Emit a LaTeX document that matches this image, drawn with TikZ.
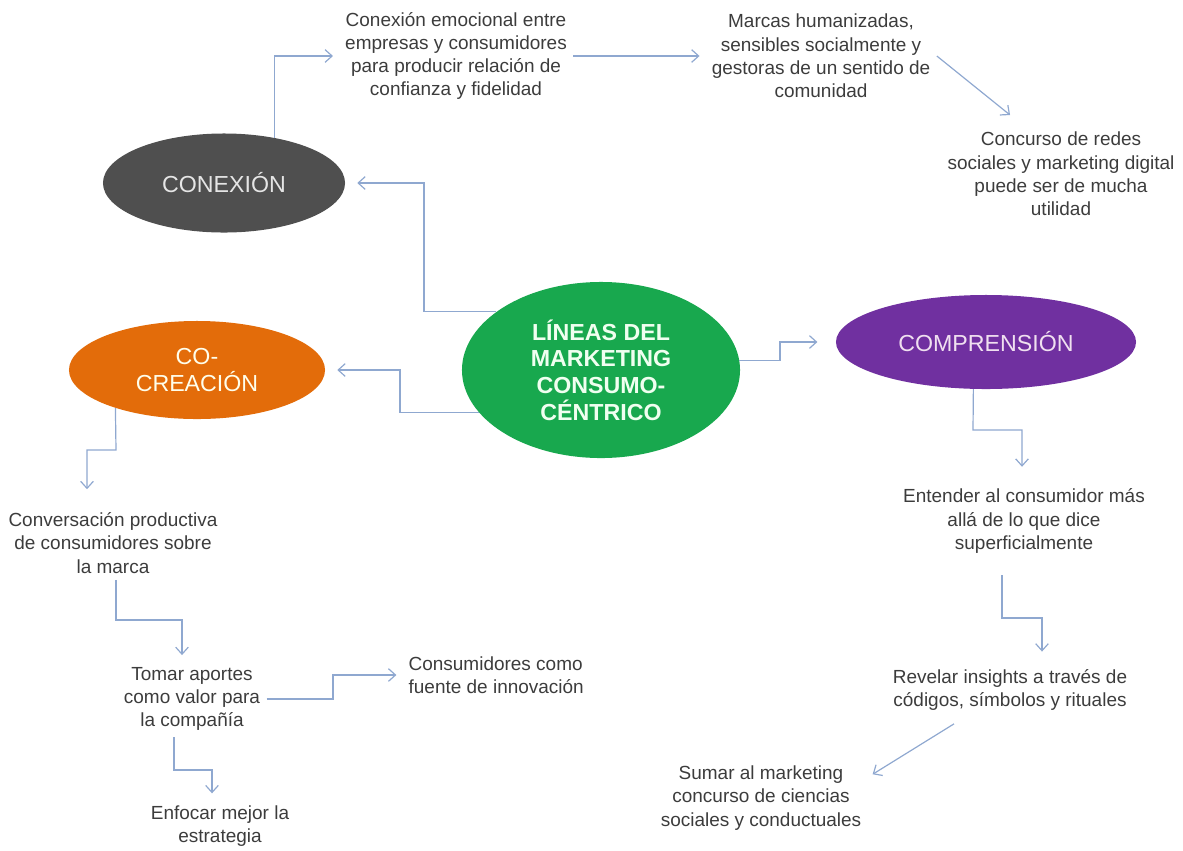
\documentclass[tikz,border=0pt]{standalone}
\usepackage{fontspec}
\setmainfont{Liberation Sans}
\usetikzlibrary{arrows.meta,shapes.geometric}

\begin{document}
\begin{tikzpicture}[x=0.025cm,y=-0.025cm,>={Straight Barb[length=5pt,width=9pt]},
  lnk/.style={->,draw=cLink,line width=0.85pt,shorten >=4pt},
  blob/.style={ellipse,inner sep=0pt,align=center,font=\fontsize{16.5}{19.5}\selectfont},
  txt/.style={align=center,text=cText,inner sep=4.5pt,font=\fontsize{13.5}{16.5}\selectfont}]

% colors
\definecolor{cGrey}{RGB}{79,79,79}
\definecolor{cOrange}{RGB}{227,108,10}
\definecolor{cGreen}{RGB}{24,168,78}
\definecolor{cPurple}{RGB}{112,48,160}
\definecolor{cLink}{RGB}{143,168,208}
\definecolor{cText}{RGB}{60,60,60}

% frame
\useasboundingbox (0,0) rectangle (1183,850);

% four ellipses
\node[blob,fill=cGrey,text=black!10,minimum width=6.05cm,minimum height=2.475cm] (conexion) at (224,183) {CONEXIÓN};
\node[blob,fill=cOrange,text=yellow!8,minimum width=6.4cm,minimum height=2.45cm] (cocrea) at (197,370) {CO-\\CREACIÓN};
\node[blob,fill=cGreen,text=green!6,font=\bfseries\fontsize{16.5}{19}\selectfont,minimum width=6.95cm,minimum height=4.4cm] (lineas) at (601,370) {LÍNEAS DEL\\MARKETING\\CONSUMO-\\CÉNTRICO};
\node[blob,fill=cPurple,text=violet!12,minimum width=7.5cm,minimum height=2.35cm] (compren) at (986,342) {COMPRENSIÓN};

% texts
\node[txt] (emoc) at (456,56) {Conexión emocional entre\\empresas y consumidores\\para producir relación de\\confianza y fidelidad};
\node[txt] (marcas) at (821,56) {Marcas humanizadas,\\sensibles socialmente y\\gestoras de un sentido de\\comunidad};
\node[txt] (redes) at (1061,174) {Concurso de redes\\sociales y marketing digital\\puede ser de mucha\\utilidad};
\node[txt] (entender) at (1024,521) {Entender al consumidor más\\allá de lo que dice\\superficialmente};
\node[txt] (revelar) at (1010,690) {Revelar insights a través de\\códigos, símbolos y rituales};
\node[txt] (sumar) at (761,798) {Sumar al marketing\\concurso de ciencias\\sociales y conductuales};
\node[txt] (convers) at (113,543) {Conversación productiva\\de consumidores sobre\\la marca};
\node[txt] (tomar) at (192,699) {Tomar aportes\\como valor para\\la compañía};
\node[txt,align=left,anchor=west] (innov) at (402,675) {Consumidores como\\fuente de innovación};
\node[txt] (enfocar) at (220,826) {Enfocar mejor la\\estrategia};

% bends
\coordinate (k1) at (424,183);
\coordinate (k2) at (400,370);
\coordinate (k3) at (780,342);
\coordinate (k4) at (973,430);
\coordinate (k5) at (1022,430);
\coordinate (k6) at (1002,618);
\coordinate (k7) at (1042,618);
\coordinate (k8) at (116,450);
\coordinate (k9) at (87,450);
\coordinate (k10) at (116,620);
\coordinate (k11) at (182,620);
\coordinate (k12) at (333,675);
\coordinate (k13) at (174,770);
\coordinate (k14) at (212,770);

% top branch
\draw[lnk] (conexion.42) |- (emoc.west);
\draw[lnk] (emoc.east) -- (marcas.west);
\draw[lnk,shorten >=12pt] (marcas.east) -- (redes.128);

% from the centre
\draw[lnk,shorten >=8.5pt] (lineas.151) -| (k1) -- (conexion.east);
\draw[lnk,shorten >=8.5pt] (lineas.199) -| (k2) -- (cocrea.east);
\draw[lnk,shorten >=13pt] (lineas.4) -| (k3) -- (compren.west);

% right branch
\draw[lnk,shorten >=11pt] (compren.255) -- (k4) -- (k5) -- (k5 |- entender.north);
\draw[lnk,shorten <=11pt,shorten >=8pt] (k6 |- entender.south) -- (k6) -- (k7) -- (k7 |- revelar.north);
\draw[lnk,shorten <=9pt] (revelar.211) -- (sumar.11);

% left branch
\draw[lnk,shorten >=12pt] (cocrea.205) -- (k8) -- (k9) -- (k9 |- convers.north);
\draw[lnk] (k10 |- convers.south) -- (k10) -- (k11) -- (k11 |- tomar.north);
\draw[lnk] (tomar.east) -| (k12) -- (innov.west);
\draw[lnk] (k13 |- tomar.south) -- (k13) -- (k14) -- (k14 |- enfocar.north);

\end{tikzpicture}
\end{document}
